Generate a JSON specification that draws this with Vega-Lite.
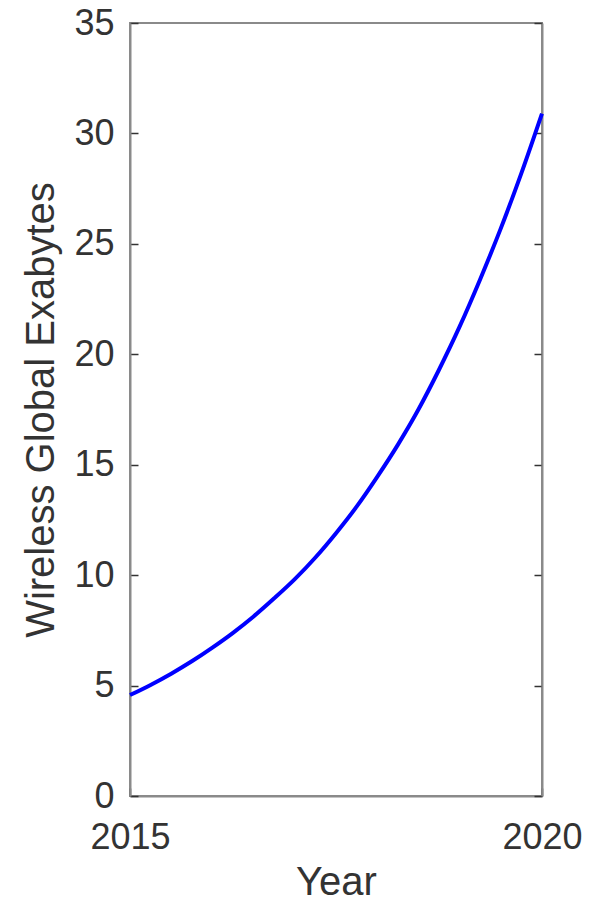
{
  "$schema": "https://vega.github.io/schema/vega-lite/v6.json",
  "width": 412,
  "height": 773,
  "autosize": {"type": "none"},
  "padding": {"left": 130, "top": 23, "right": 49, "bottom": 106},
  "background": "white",
  "config": {
    "view": {"stroke": "#8a8a8a", "strokeWidth": 2},
    "axis": {
      "labelFont": "Liberation Sans",
      "titleFont": "Liberation Sans",
      "labelFontSize": 36,
      "titleFontSize": 40,
      "labelColor": "#333333",
      "titleColor": "#333333",
      "titleFontWeight": "normal",
      "domainColor": "#8a8a8a",
      "domainWidth": 2,
      "tickColor": "#333333",
      "tickWidth": 1.5,
      "tickSize": -8,
      "grid": false
    }
  },
  "data": {
    "values": [
      {"year": 2015.0, "exabytes": 4.57},
      {"year": 2015.25, "exabytes": 5.03},
      {"year": 2015.5, "exabytes": 5.54},
      {"year": 2015.75, "exabytes": 6.1},
      {"year": 2016.0, "exabytes": 6.72},
      {"year": 2016.25, "exabytes": 7.39},
      {"year": 2016.5, "exabytes": 8.13},
      {"year": 2016.75, "exabytes": 8.95},
      {"year": 2017.0, "exabytes": 9.82},
      {"year": 2017.25, "exabytes": 10.8},
      {"year": 2017.5, "exabytes": 11.9},
      {"year": 2017.75, "exabytes": 13.1},
      {"year": 2018.0, "exabytes": 14.45},
      {"year": 2018.25, "exabytes": 15.9},
      {"year": 2018.5, "exabytes": 17.5},
      {"year": 2018.75, "exabytes": 19.3},
      {"year": 2019.0, "exabytes": 21.25},
      {"year": 2019.25, "exabytes": 23.4},
      {"year": 2019.5, "exabytes": 25.7},
      {"year": 2019.75, "exabytes": 28.2},
      {"year": 2020.0, "exabytes": 30.9}
    ]
  },
  "resolve": {"scale": {"y": "independent"}},
  "layer": [
    {
      "mark": {"type": "line", "color": "#0000ff", "strokeWidth": 4, "interpolate": "monotone"},
      "encoding": {
        "x": {
          "field": "year", "type": "quantitative",
          "scale": {"domain": [2015, 2020], "nice": false, "zero": false},
          "axis": {"values": [2015, 2020], "format": "d", "title": "Year", "labelPadding": 32, "titlePadding": 7, "labelFlush": false}
        },
        "y": {
          "field": "exabytes", "type": "quantitative",
          "scale": {"domain": [0, 35], "nice": false},
          "axis": {"values": [0, 5, 10, 15, 20, 25, 30, 35], "title": "Wireless Global Exabytes", "labelPadding": 24, "titlePadding": 12, "labelFlush": false}
        }
      }
    },
    {
      "mark": {"type": "line", "opacity": 0},
      "encoding": {
        "x": {"field": "year", "type": "quantitative"},
        "y": {
          "field": "exabytes", "type": "quantitative",
          "scale": {"domain": [0, 35], "nice": false},
          "axis": {"orient": "right", "values": [0, 5, 10, 15, 20, 25, 30, 35], "labels": false, "title": null}
        }
      }
    }
  ]
}
